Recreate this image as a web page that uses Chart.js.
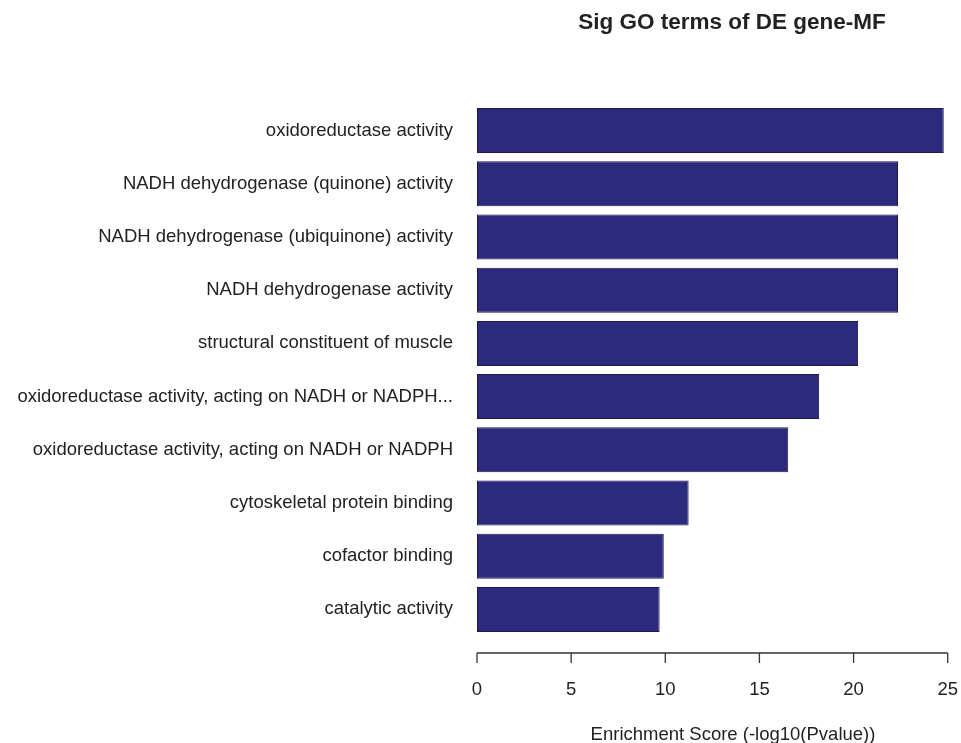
<!DOCTYPE html>
<html>
<head>
<meta charset="utf-8">
<script src="https://cdn.jsdelivr.net/npm/chart.js@4/dist/chart.umd.min.js"></script>
<style>
  html, body { margin: 0; padding: 0; background: #fff; }
  #wrap { width: 961px; height: 743px; }
</style>
</head>
<body>
<div id="wrap"><canvas id="barChart"></canvas></div>
<script>
// data
const terms = [
  'oxidoreductase activity',
  'NADH dehydrogenase (quinone) activity',
  'NADH dehydrogenase (ubiquinone) activity',
  'NADH dehydrogenase activity',
  'structural constituent of muscle',
  'oxidoreductase activity, acting on NADH or NADPH...',
  'oxidoreductase activity, acting on NADH or NADPH',
  'cytoskeletal protein binding',
  'cofactor binding',
  'catalytic activity'
];
const scores = [24.79, 22.36, 22.36, 22.36, 20.24, 18.17, 16.53, 11.24, 9.92, 9.70];
const xTicks = [0, 5, 10, 15, 20, 25];

const chartTitle = 'Sig GO terms of DE gene-MF';
const xTitle = 'Enrichment Score (-log10(Pvalue))';

const FONT = '"Liberation Sans", Arial, sans-serif';
const INK = '#222';

// R style axis: line from first to last tick, sitting below the bars
const rAxis = {
  id: 'rAxis',
  afterDraw(chart) {
    const c = chart.ctx;
    const x = chart.scales.x;
    const y0 = chart.chartArea.bottom + 17;
    c.save();
    c.strokeStyle = '#333';
    c.lineWidth = 1.3;
    c.beginPath();
    c.moveTo(x.getPixelForValue(xTicks[0]), y0);
    c.lineTo(x.getPixelForValue(xTicks[xTicks.length - 1]), y0);
    xTicks.forEach(t => {
      const px = x.getPixelForValue(t);
      c.moveTo(px, y0);
      c.lineTo(px, y0 + 10);
    });
    c.stroke();

    c.fillStyle = INK;
    c.textAlign = 'center';
    c.textBaseline = 'alphabetic';
    c.font = 'bold 22.5px ' + FONT;
    c.fillText(chartTitle, 732, 29);
    c.font = '18.5px ' + FONT;
    c.fillText(xTitle, 733, 740);
    c.restore();
  }
};

const ctx = document.getElementById('barChart').getContext('2d');
const myChart = new Chart(ctx, {
  type: 'bar',
  data: {
    labels: terms,
    datasets: [{
      data: scores,
      backgroundColor: '#2b2a7d',
      borderColor: '#1a1a4c',
      borderWidth: 1,
      borderSkipped: false,
      barPercentage: 0.845,
      categoryPercentage: 1
    }]
  },
  options: {
    indexAxis: 'y',
    responsive: true,
    maintainAspectRatio: false,
    animation: false,
    layout: { padding: { top: 104, right: 12, bottom: 37, left: 0 } },
    plugins: {
      legend: { display: false },
      title: { display: false },
      tooltip: { enabled: false }
    },
    scales: {
      x: {
        min: 0,
        max: 25,
        afterBuildTicks: s => { s.ticks = xTicks.map(v => ({ value: v })); },
        afterFit: s => { s.height = 70; },
        // tick marks are hidden, tickLength only pushes the labels down
        grid: { display: false, drawTicks: true, tickLength: 40 },
        border: { display: false },
        ticks: {
          padding: 3,
          maxRotation: 0,
          color: INK,
          font: { family: FONT, size: 18.5 }
        }
      },
      y: {
        afterFit: s => { s.width = 477; },
        grid: { display: false, drawTicks: false },
        border: { display: false },
        ticks: {
          padding: 24,
          color: INK,
          autoSkip: false,
          font: { family: FONT, size: 18.5 }
        }
      }
    }
  },
  plugins: [rAxis]
});
</script>
</body>
</html>
